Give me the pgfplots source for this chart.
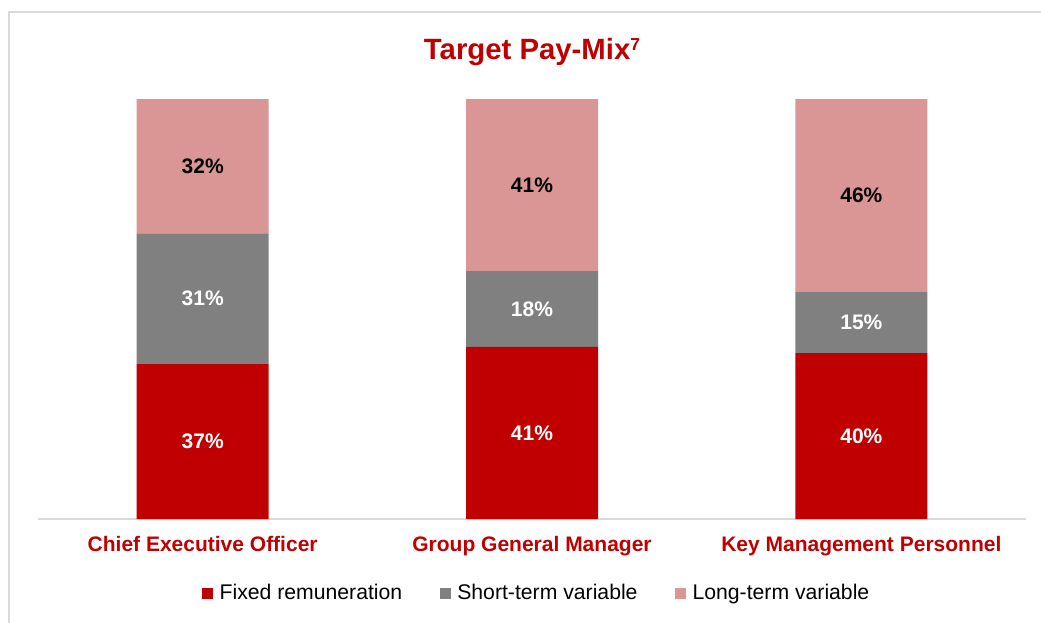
\documentclass[border=0pt]{standalone}
\usepackage{pgfplots}
\pgfplotsset{compat=1.18}
\usepackage{pgfplotstable}
\usepackage{fontspec}
\setmainfont{Liberation Sans}
\definecolor{cfixed}{HTML}{C00000}
\definecolor{cshort}{HTML}{808080}
\definecolor{clong}{HTML}{DA9694}
\definecolor{cframe}{HTML}{D9D9D9}

% pay mix, percent of target package
\pgfplotstableread{
x fixed short long lf ls ll
0 37   31   32 37 31 32
1 41   18   41 41 18 41
2 39.5 14.5 46 40 15 46
}\paymix

\newcommand{\lbl}{\fontsize{15.75}{18}\selectfont\bfseries}
\pgfplotsset{frame/.style={
  at={(28.5pt,-389.25pt)}, anchor=south west,
  scale only axis, width=741pt, height=315pt,
  xmin=-0.5, xmax=2.5, ymin=0, ymax=100, clip=false}}

\begin{document}
\begin{tikzpicture}
\useasboundingbox (0,0) rectangle (780.75pt,-466.5pt);
\draw[cframe,line width=1.1pt] (6.75pt,-470pt) -- (6.75pt,-9pt) -- (785pt,-9pt);
\begin{axis}[frame,
  ybar stacked, bar width=99pt,
  xtick={0,1,2},
  xticklabels={Chief Executive Officer, Group General Manager, Key Management Personnel},
  xticklabel style={font=\lbl, text=cfixed, inner sep=0pt, anchor=north, yshift=-12.75pt},
  ytick=\empty,
  axis x line*=bottom, axis y line=none,
  x axis line style={draw=cframe, line width=0.9pt, -},
  major tick length=0pt,
  legend columns=3,
  legend style={at={(0.5,0)}, anchor=center, yshift=-55.5pt, xshift=3pt,
    draw=none, fill=none, font=\fontsize{15.9}{18}\selectfont,
    /tikz/every even column/.append style={column sep=27.5pt},
    /tikz/every odd column/.append style={column sep=4.5pt},
    nodes={inner sep=0.5pt}},
  legend image code/.code={\fill[#1] (0pt,-4.125pt) rectangle (8.25pt,4.125pt);},
]
\addplot[fill=cfixed, draw=none] table[x=x, y=fixed] {\paymix};
\addplot[fill=cshort, draw=none] table[x=x, y=short] {\paymix};
\addplot[fill=clong, draw=none] table[x=x, y=long] {\paymix};
\legend{Fixed remuneration, Short-term variable, Long-term variable}
\node[anchor=base, text=cfixed, font=\fontsize{22}{26}\selectfont\bfseries]
  at (rel axis cs:0.5,1) [yshift=30pt]
  {Target Pay-Mix\raisebox{0.3em}{\fontsize{13}{15}\selectfont 7}};
\end{axis}
% segment labels, centred in each segment
\begin{axis}[frame, hide axis,
  point meta=explicit symbolic,
  nodes near coords={\pgfplotspointmeta\%},
  every node near coord/.append style={font=\lbl, anchor=center}]
\addplot[draw=none, mark=none, every node near coord/.append style={text=white}]
  table[x=x, y expr=\thisrow{fixed}/2, meta=lf] {\paymix};
\addplot[draw=none, mark=none, every node near coord/.append style={text=white}]
  table[x=x, y expr=\thisrow{fixed}+\thisrow{short}/2, meta=ls] {\paymix};
\addplot[draw=none, mark=none, every node near coord/.append style={text=black}]
  table[x=x, y expr=\thisrow{fixed}+\thisrow{short}+\thisrow{long}/2, meta=ll] {\paymix};
\end{axis}
\end{tikzpicture}
\end{document}
